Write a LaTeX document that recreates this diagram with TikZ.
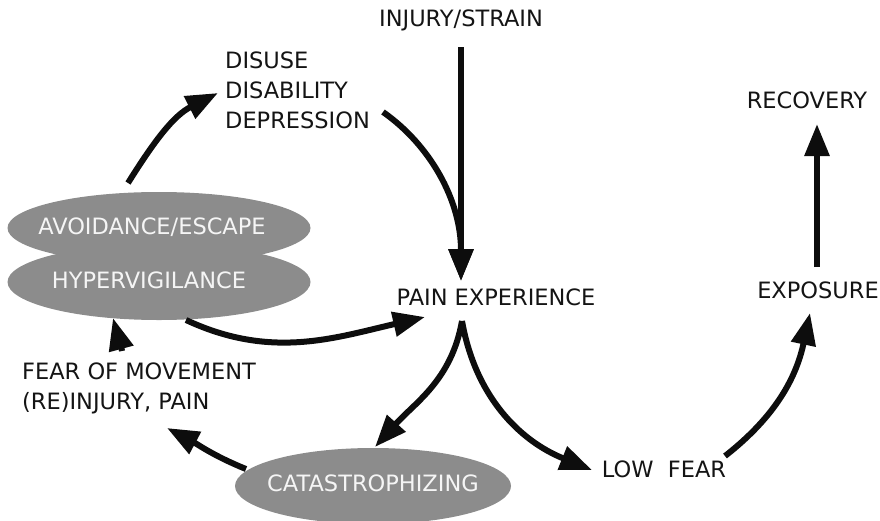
\documentclass[tikz,border=0pt]{standalone}
\usepackage{fontspec}
\setmainfont{DejaVu Sans}
\usetikzlibrary{arrows.meta,shapes.geometric}
\begin{document}
\begin{tikzpicture}[x=1pt,y=-1pt,
  lbl/.style={font=\fontsize{22.5}{30}\selectfont, inner sep=0pt, text=black!92},
  blob/.style={ellipse, fill=black!45, inner sep=0pt},
  blobtext/.style={inner sep=0pt, text=black!4, font=\fontsize{22.5}{30}\selectfont},
  conn/.style={line width=6pt, draw=black!95, -{Triangle[length=32pt,width=24pt]}}]
\useasboundingbox (0,0) rectangle (880,520);

% nodes
\node[lbl] (inj) at (461,20) {INJURY/STRAIN};
\node[lbl, align=left, anchor=west] (dis) at (225,90) {DISUSE\\DISABILITY\\DEPRESSION};
\node[blob, minimum width=303pt, minimum height=72pt] (avoid) at (159,228) {};
\node[blob, minimum width=303pt, minimum height=76pt] (hyper) at (159,282) {};
\node[blobtext] (avoidT) at (152,227) {AVOIDANCE/ESCAPE};
\node[blobtext] (hyperT) at (149,280) {HYPERVIGILANCE};
\node[lbl] (pain) at (496,297) {PAIN EXPERIENCE};
\node[lbl, align=left, anchor=west] (fear) at (22,388) {FEAR OF MOVEMENT\\(RE)INJURY, PAIN};
\node[blob, minimum width=276pt, minimum height=76pt] (cat) at (373,486) {};
\node[blobtext] (catT) at (373,483) {CATASTROPHIZING};
\node[lbl] (low) at (664,469) {LOW\ \ FEAR};
\node[lbl] (expo) at (818,290) {EXPOSURE};
\node[lbl] (rec) at (807,100) {RECOVERY};

% connector end points
\coordinate (avoidTop) at (128,183);
\coordinate (disIn) at (218,93);
\coordinate (disOut) at (383,112);
\coordinate (injOut) at (461,47);
\coordinate (painIn) at (461,281);
\coordinate (painInL) at (425,317);
\coordinate (hyperOut) at (186,320);
\coordinate (painOut) at (462,321);
\coordinate (catIn) at (375,447);
\coordinate (lowIn) at (592,470);
\coordinate (catOut) at (246,469);
\coordinate (fearIn) at (167,428);
\coordinate (fearOut) at (122,351);
\coordinate (hyperIn) at (113,318);
\coordinate (lowOut) at (725,456);
\coordinate (expoIn) at (810,313);
\coordinate (expoOut) at (817,267);
\coordinate (recIn) at (817,124);

% connectors
\draw[conn] (avoidTop) to[out=58,in=207] (disIn);
\draw[conn] (disOut) .. controls (430,145) and (461,200) .. (painIn);
\draw[conn] (injOut) -- (painIn);
\draw[conn] (hyperOut) to[out=-25,in=193] (painInL);
\draw[conn] (painOut) to[out=-100,in=48] (catIn);
\draw[conn] (painOut) to[out=-80,in=158] (lowIn);
\draw[conn] (catOut) to[out=158,in=-28] (fearIn);
\draw[conn] (fearOut) to[out=100,in=-75] (hyperIn);
\draw[conn] (lowOut) to[out=38,in=-102] (expoIn);
\draw[conn] (expoOut) -- (recIn);
\end{tikzpicture}
\end{document}
